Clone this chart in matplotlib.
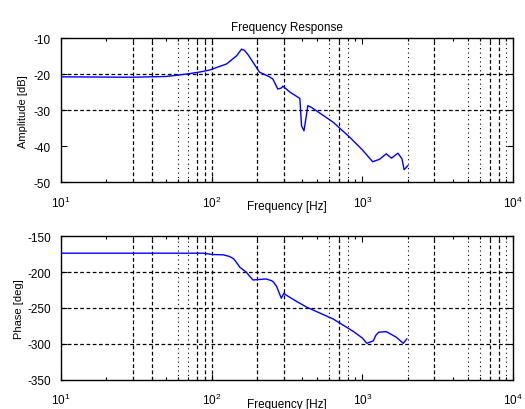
import numpy as np
import matplotlib
matplotlib.use('Agg')
import matplotlib.pyplot as plt
from matplotlib.ticker import LogLocator, MultipleLocator

plt.rcParams['font.family'] = ['Liberation Sans', 'DejaVu Sans']
plt.rcParams['mathtext.default'] = 'regular'
plt.rcParams['axes.unicode_minus'] = False

# Amplitude curve [Hz, dB]
amp_freq = [10, 30, 50, 69, 85, 97, 126, 147, 158, 165, 175, 208, 240, 255, 275,
            290, 297, 330, 385, 395, 410, 425, 435, 460, 640, 825, 1000, 1170,
            1300, 1440, 1560, 1720, 1830, 1890, 2000]
amp_db = [-20.7, -20.8, -20.6, -19.9, -19.3, -18.8, -17.1, -14.8, -13.0, -13.3,
          -14.6, -19.4, -20.6, -21.3, -24.1, -23.8, -23.3, -24.9, -26.7, -34.3,
          -35.7, -31.5, -28.7, -29.2, -33.3, -37.5, -41.0, -44.3, -43.6, -42.1,
          -43.3, -41.9, -43.5, -46.5, -45.4]

# Phase curve [Hz, deg]
ph_freq = [10, 88, 102, 120, 132, 140, 146, 154, 170, 188, 230, 250, 258, 270,
           278, 290, 302, 312, 360, 428, 640, 867, 1000, 1070, 1180, 1230, 1280,
           1440, 1680, 1865, 1970]
ph_deg = [-173.7, -173.7, -175.6, -176.0, -178.4, -181.5, -186.3, -193.3, -200.2,
          -211.0, -209.6, -212.0, -214.2, -220.0, -226.7, -236.5, -229.5, -232.0,
          -240.0, -249.0, -265.4, -282.5, -292.0, -299.3, -296.0, -288.0, -283.9,
          -283.0, -290.9, -299.3, -293.2]

# grid lines that show in the reference (heavy dashed / faint dotted)
GRID_HEAVY = [30, 40, 80, 90, 100, 200, 300, 700, 3000, 7000, 8000]
GRID_FAINT = [60, 70, 600, 800, 2000, 5000, 6000, 9000]
AMP_HGRID = [-20, -30]
PH_HGRID = [-200, -250, -300]

fig = plt.figure(figsize=(5.25, 4.10), dpi=100)
ax1 = fig.add_axes([0.1156, 0.553, 0.862, 0.351])
ax2 = fig.add_axes([0.1156, 0.0715, 0.862, 0.350])


def style_axes(ax, hgrid):
    ax.set_xscale('log')
    ax.set_xlim(10, 1e4)
    ax.xaxis.set_major_locator(LogLocator(base=10))
    ax.xaxis.set_minor_locator(LogLocator(base=10, subs=np.arange(2, 10)))
    for x in GRID_HEAVY:
        ax.axvline(x, color='k', lw=0.9, ls=(0, (3, 2)), zorder=1)
    for x in GRID_FAINT:
        ax.axvline(x, color='k', lw=0.8, ls=(0, (1, 3)), zorder=1)
    for y in hgrid:
        ax.axhline(y, color='k', lw=0.9, ls=(0, (3, 2)), zorder=1)
    ax.tick_params(which='both', direction='in', top=True, right=True,
                   labelsize=8.5, width=0.8)
    ax.tick_params(which='major', length=4)
    ax.tick_params(which='minor', length=2)
    ax.tick_params(axis='x', pad=9)
    ax.tick_params(axis='y', pad=7)
    for s in ax.spines.values():
        s.set_linewidth(1.0)


style_axes(ax1, AMP_HGRID)
ax1.plot(amp_freq, amp_db, color='#0000ff', lw=1.0, zorder=3)
ax1.set_ylim(-50, -10)
ax1.yaxis.set_major_locator(MultipleLocator(10))
ax1.set_title('Frequency Response', fontsize=8.5, pad=6)
ax1.set_ylabel('Amplitude [dB]', fontsize=8, labelpad=4)
ax1.set_xlabel('Frequency [Hz]', fontsize=8.5)
ax1.xaxis.set_label_coords(0.5, -0.125)

style_axes(ax2, PH_HGRID)
ax2.plot(ph_freq, ph_deg, color='#0000ff', lw=1.0, zorder=3)
ax2.set_ylim(-350, -150)
ax2.yaxis.set_major_locator(MultipleLocator(50))
ax2.set_ylabel('Phase [deg]', fontsize=8, labelpad=2)
ax2.set_xlabel('Frequency [Hz]', fontsize=8.5)
ax2.xaxis.set_label_coords(0.5, -0.13)

fig.savefig('out.png', dpi=100)
